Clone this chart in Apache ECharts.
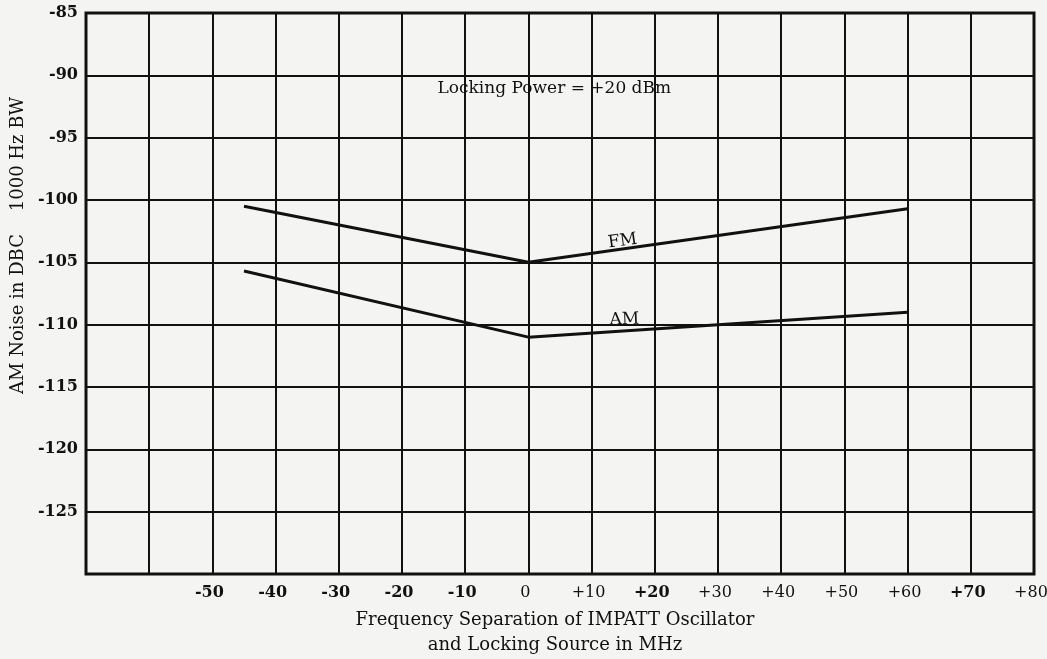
<!DOCTYPE html>
<html>
<head>
<meta charset="utf-8">
<script src="https://cdn.jsdelivr.net/npm/echarts@6/dist/echarts.min.js"></script>
<style>
html,body{margin:0;padding:0;background:#f4f4f2;}
#chart{width:1047px;height:659px;}
</style>
</head>
<body>
<div id="chart"></div>
<script>
// Data
const fmX = [-45, 0, 60];
const fmY = [-100.5, -105, -100.7];
const amX = [-45, 0, 60];
const amY = [-105.7, -111.0, -109.0];
const xTicks = [-70, -60, -50, -40, -30, -20, -10, 0, 10, 20, 30, 40, 50, 60, 70, 80];
const xTickLabels = ['', '', '-50', '-40', '-30', '-20', '-10', '0', '+10', '+20', '+30', '+40', '+50', '+60', '+70', '+80'];
const boldXLabels = ['-50', '-40', '-30', '-20', '-10', '+20', '+70'];
const yTicks = [-130, -125, -120, -115, -110, -105, -100, -95, -90, -85];
const yTickLabels = ['', '-125', '-120', '-115', '-110', '-105', '-100', '-95', '-90', '-85'];
const annotations = [
  {text: 'Locking Power = +20 dBm', x: 4.1, y: -91.1, rotate: 0},
  {text: 'FM', x: 14.9, y: -103.3, rotate: 8},
  {text: 'AM', x: 15.2, y: -109.6, rotate: 2}
];

const SERIF = '"DejaVu Serif", "Liberation Serif", serif';
const chart = echarts.init(document.getElementById('chart'));

const pairs = (xs, ys) => xs.map((x, i) => [x, ys[i]]);

chart.setOption({
  backgroundColor: '#f4f4f2',
  animation: false,
  grid: {left: 86, top: 13, width: 948, height: 561, show: true, borderColor: '#111', borderWidth: 3,
    backgroundColor: 'transparent', containLabel: false, outerBoundsMode: 'none'},
  xAxis: {
    type: 'value', min: -70, max: 80, interval: 10,
    axisLine: {show: false}, axisTick: {show: false},
    splitLine: {show: true, lineStyle: {color: '#111', width: 2}},
    axisLabel: {
      margin: 11,
      formatter: v => {
        const i = xTicks.indexOf(v);
        const s = i >= 0 ? xTickLabels[i] : '';
        if (!s) return '';
        return boldXLabels.includes(s) ? '{b|' + s + '}' : '{n|' + s + '}';
      },
      rich: {
        b: {fontFamily: SERIF, fontWeight: 'bold', fontSize: 16, color: '#111', padding: [0, 6, 0, 0]},
        n: {fontFamily: SERIF, fontWeight: 'normal', fontSize: 16, color: '#111', padding: [0, 6, 0, 0]}
      }
    },
    name: 'Frequency Separation of IMPATT Oscillator\nand Locking Source in MHz',
    nameLocation: 'middle', nameGap: 34,
    nameTextStyle: {fontFamily: SERIF, fontSize: 18, color: '#111', lineHeight: 25, padding: [0, 10, 0, 0]}
  },
  yAxis: {
    type: 'value', min: -130, max: -85, interval: 5,
    axisLine: {show: false}, axisTick: {show: false},
    splitLine: {show: true, lineStyle: {color: '#111', width: 2}},
    axisLabel: {
      margin: 8,
      fontFamily: SERIF, fontWeight: 'bold', fontSize: 16, color: '#111',
      formatter: v => {
        const i = yTicks.indexOf(v);
        return i >= 0 ? yTickLabels[i] : '';
      }
    },
    name: 'AM Noise in DBC    1000 Hz BW',
    nameLocation: 'middle', nameGap: 56,
    nameTextStyle: {fontFamily: SERIF, fontSize: 18, color: '#111', padding: [0, 0, 0, 96]}
  },
  series: [
    {
      name: 'FM', type: 'line', data: pairs(fmX, fmY), showSymbol: false, symbol: 'none',
      lineStyle: {color: '#111', width: 3}, silent: true,
      markPoint: {
        symbol: 'circle', symbolSize: 0, silent: true,
        label: {show: true, position: 'inside', fontFamily: SERIF, fontSize: 17, color: '#111'},
        data: annotations.slice(0, 2).map(a => ({coord: [a.x, a.y], value: a.text,
          label: {formatter: a.text, rotate: a.rotate}}))
      }
    },
    {
      name: 'AM', type: 'line', data: pairs(amX, amY), showSymbol: false, symbol: 'none',
      lineStyle: {color: '#111', width: 3}, silent: true,
      markPoint: {
        symbol: 'circle', symbolSize: 0, silent: true,
        label: {show: true, position: 'inside', fontFamily: SERIF, fontSize: 17, color: '#111'},
        data: annotations.slice(2).map(a => ({coord: [a.x, a.y], value: a.text,
          label: {formatter: a.text, rotate: a.rotate}}))
      }
    }
  ]
});
</script>
</body>
</html>
